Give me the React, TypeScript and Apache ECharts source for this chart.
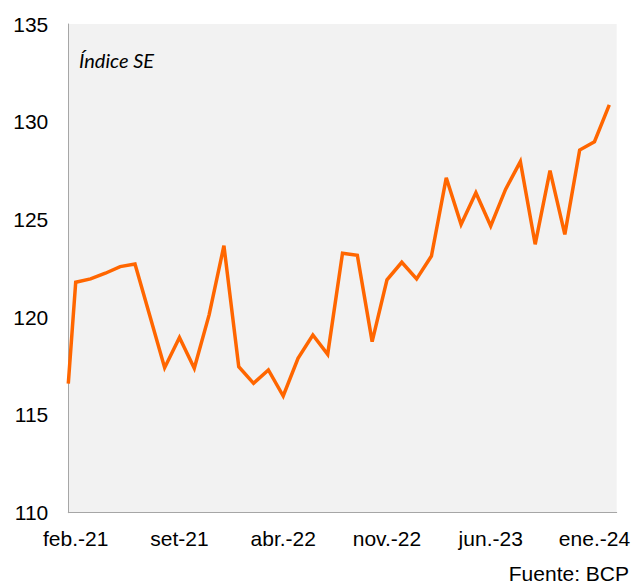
import React, { useEffect, useRef } from "react";
import * as echarts from "echarts";

// Month labels (feb.-21 .. feb.-24)
const months: string[] = [
  "feb.-21", "mar.-21", "abr.-21", "may.-21", "jun.-21", "jul.-21", "ago.-21", "set-21", "oct.-21", "nov.-21", "dic.-21",
  "ene.-22", "feb.-22", "mar.-22", "abr.-22", "may.-22", "jun.-22", "jul.-22", "ago.-22", "set-22", "oct.-22", "nov.-22", "dic.-22",
  "ene.-23", "feb.-23", "mar.-23", "abr.-23", "may.-23", "jun.-23", "jul.-23", "ago.-23", "set-23", "oct.-23", "nov.-23", "dic.-23",
  "ene.-24", "feb.-24",
];

// Índice SE values, one per month above
const indiceSE: number[] = [
  121.79, 121.96, 122.25, 122.59, 122.72, 120.08, 117.42, 118.96, 117.39, 120.12, 123.66,
  117.47, 116.62, 117.3, 115.97, 117.9, 119.09, 118.1, 123.27, 123.17, 118.75, 121.91, 122.81,
  121.96, 123.13, 127.13, 124.75, 126.37, 124.67, 126.54, 127.96, 123.73, 127.5, 124.24, 128.55,
  128.98, 130.86,
];

// Value where the line enters at the left edge of the plot (from the previous month)
const leftEdgeValue = 116.6;

const yTicks = { min: 110, max: 135, interval: 5 };

const FONT = "'Liberation Sans', Arial, sans-serif";

export default function App() {
  const ref = useRef<HTMLDivElement>(null);

  useEffect(() => {
    if (!ref.current) return;
    const chart = echarts.init(ref.current, undefined, { renderer: "svg" });
    const seriesData: [number, number][] = [[-0.5, leftEdgeValue]];
    indiceSE.forEach((v, i) => seriesData.push([i, v]));

    chart.setOption({
      animation: false,
      backgroundColor: "#ffffff",
      grid: {
        left: 68.3,
        right: 18.3,
        top: 24,
        bottom: 71.3,
        show: true,
        backgroundColor: "#F2F2F2",
        borderWidth: 0,
      },
      xAxis: [
        {
          type: "category",
          data: months,
          boundaryGap: true,
          axisLine: { show: true, onZero: false, lineStyle: { color: "#A6A6A6", width: 1 } },
          axisTick: { show: false },
          splitLine: { show: false },
          axisLabel: {
            interval: 6,
            margin: 15,
            fontSize: 21,
            fontFamily: FONT,
            color: "#000000",
          },
        },
        {
          type: "value",
          show: false,
          min: -0.5,
          max: months.length - 0.5,
          axisLine: { show: false, onZero: false },
          splitLine: { show: false },
        },
      ],
      yAxis: {
        type: "value",
        min: yTicks.min,
        max: yTicks.max,
        interval: yTicks.interval,
        axisLine: { show: true, onZero: false, lineStyle: { color: "#A6A6A6", width: 1 } },
        axisTick: { show: false },
        splitLine: { show: false },
        axisLabel: {
          margin: 20,
          fontSize: 21,
          fontFamily: FONT,
          color: "#000000",
        },
      },
      series: [
        {
          type: "line",
          xAxisIndex: 1,
          yAxisIndex: 0,
          data: seriesData,
          showSymbol: false,
          symbol: "none",
          lineStyle: { color: "#FF6600", width: 3.5, join: "miter" },
          itemStyle: { color: "#FF6600" },
        },
      ],
      graphic: [
        {
          type: "text",
          left: 79,
          top: 50,
          style: {
            text: "Índice SE",
            fontFamily: "Lato, 'Open Sans', sans-serif",
            fontStyle: "italic",
            fontSize: 20,
            fill: "#000000",
          },
        },
        {
          type: "text",
          right: 6,
          top: 563,
          style: {
            text: "Fuente: BCP",
            fontFamily: FONT,
            fontSize: 21,
            fill: "#000000",
          },
        },
      ],
    });
    return () => chart.dispose();
  }, []);

  return (
    <div
      ref={ref}
      style={{ position: "fixed", left: 0, top: 0, width: 635, height: 584 }}
    />
  );
}
